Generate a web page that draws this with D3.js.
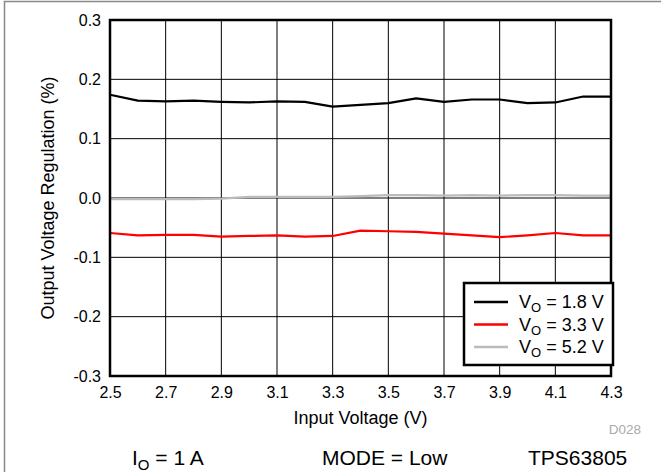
<!DOCTYPE html>
<html><head><meta charset="utf-8">
<script src="https://cdn.jsdelivr.net/npm/d3@7/dist/d3.min.js"></script>
<style>
body{margin:0;background:#fff;}
text{font-family:"Liberation Sans",Arial,sans-serif;}
</style></head>
<body><svg id="c" width="661" height="475"></svg>
<script>
const inputVoltage = [2.5,2.6,2.7,2.8,2.9,3.0,3.1,3.2,3.3,3.4,3.5,3.6,3.7,3.8,3.9,4.0,4.1,4.2,4.3];
const vo18 = [0.174,0.164,0.163,0.164,0.162,0.161,0.163,0.162,0.154,0.157,0.160,0.168,0.162,0.166,0.166,0.160,0.161,0.171,0.171];
const vo33 = [-0.059,-0.063,-0.062,-0.062,-0.065,-0.064,-0.063,-0.065,-0.064,-0.055,-0.056,-0.057,-0.060,-0.063,-0.066,-0.063,-0.059,-0.063,-0.063];
const vo52 = [-0.002,-0.002,-0.002,-0.002,-0.001,0.002,0.002,0.002,0.002,0.003,0.005,0.005,0.004,0.005,0.004,0.005,0.005,0.004,0.004];
const seriesNames = ["1.8 V","3.3 V","5.2 V"];
const seriesColors = ["#000000","#ff0000","#bbbbbb"];
const xTicks = [2.5,2.7,2.9,3.1,3.3,3.5,3.7,3.9,4.1,4.3];
const yTicks = [-0.3,-0.2,-0.1,0.0,0.1,0.2,0.3];

const svg = d3.select("#c");
const L=110,R=611,T=20,B=376;
const x = d3.scaleLinear().domain([2.5,4.3]).range([L,R]);
const y = d3.scaleLinear().domain([-0.3,0.3]).range([B,T]);
const fmt = d => d3.format(".1f")(d).replace("\u2212","-");

// outer border
svg.append("path").attr("d","M4.5,472 V1.5 H661").attr("fill","none").attr("stroke","#888").attr("stroke-width",1.5);

// grid
const g = svg.append("g");
g.selectAll(".hg").data(yTicks).join("line").attr("x1",L).attr("x2",R)
 .attr("y1",d=>y(d)).attr("y2",d=>y(d)).attr("stroke","#000").attr("stroke-width",1);
g.selectAll(".vg").data(xTicks).join("line").attr("y1",T).attr("y2",B)
 .attr("x1",d=>x(d)).attr("x2",d=>x(d)).attr("stroke","#000").attr("stroke-width",1);

// axes labels via d3 axes
const yAxis = d3.axisLeft(y).tickValues(yTicks).tickSize(0).tickPadding(9).tickFormat(fmt);
const ya = svg.append("g").attr("transform",`translate(${L},0)`).call(yAxis);
ya.select(".domain").remove();
ya.attr("font-size",16).attr("font-family","Liberation Sans, Arial, sans-serif");
ya.selectAll("text").attr("fill","#000");
const xAxis = d3.axisBottom(x).tickValues(xTicks).tickSize(0).tickPadding(11).tickFormat(fmt);
const xa = svg.append("g").attr("transform",`translate(0,${B})`).call(xAxis);
xa.select(".domain").remove();
xa.attr("font-size",16).attr("font-family","Liberation Sans, Arial, sans-serif");
xa.selectAll("text").attr("fill","#000");

// lines
const data = [vo18,vo33,vo52];
const line = d3.line().x((d,i)=>x(inputVoltage[i])).y(d=>y(d));
[2,1,0].forEach(k=>{
  svg.append("path").datum(data[k]).attr("d",line).attr("fill","none")
   .attr("stroke",seriesColors[k]).attr("stroke-width",2.2).attr("stroke-linejoin","round");
});

// frame
svg.append("rect").attr("x",L).attr("y",T).attr("width",R-L).attr("height",B-T)
 .attr("fill","none").attr("stroke","#000").attr("stroke-width",2.5);

// axis titles
svg.append("text").attr("transform",`translate(54,${(T+B)/2}) rotate(-90)`).attr("text-anchor","middle")
 .attr("font-size",18).text("Output Voltage Regulation (%)");
svg.append("text").attr("x",(L+R)/2).attr("y",424).attr("text-anchor","middle")
 .attr("font-size",18).text("Input Voltage (V)");
svg.append("text").attr("x",641).attr("y",434).attr("text-anchor","end")
 .attr("font-size",13.5).attr("fill","#aaa").text("D028");

// legend
const lg = svg.append("g");
lg.append("rect").attr("x",464).attr("y",283).attr("width",149).attr("height",82)
 .attr("fill","#fff").attr("stroke","#000").attr("stroke-width",2.5);
seriesNames.forEach((n,i)=>{
  const yy = 302+i*22.5;
  lg.append("line").attr("x1",474).attr("x2",508).attr("y1",yy).attr("y2",yy)
    .attr("stroke",seriesColors[i]).attr("stroke-width",2.5);
  const t = lg.append("text").attr("x",519).attr("y",yy+6).attr("font-size",18);
  t.append("tspan").text("V");
  t.append("tspan").attr("font-size",13).attr("dy",4).text("O");
  t.append("tspan").attr("dy",-4).text(" = "+n);
});

// footer
const f1 = svg.append("text").attr("x",132).attr("y",465).attr("font-size",21);
f1.append("tspan").text("I");
f1.append("tspan").attr("font-size",15).attr("dy",5).text("O");
f1.append("tspan").attr("dy",-5).text(" = 1 A");
svg.append("text").attr("x",322).attr("y",465).attr("font-size",21).text("MODE = Low");
svg.append("text").attr("x",528).attr("y",465).attr("font-size",21).text("TPS63805");
</script></body></html>
